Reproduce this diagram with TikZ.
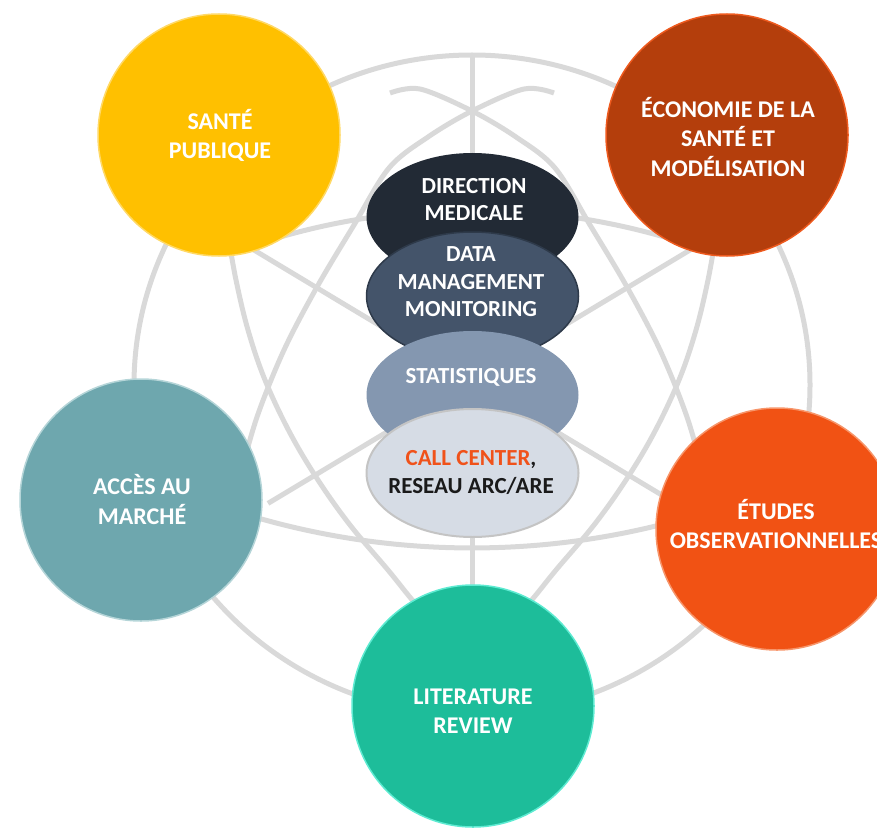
\documentclass[tikz,border=0pt]{standalone}
\usepackage{fontspec}
\setmainfont{Carlito}
\usetikzlibrary{shapes.geometric}
\definecolor{bgline}{HTML}{D9D9D9}
\definecolor{sante}{HTML}{FFC000}
\definecolor{santeb}{HTML}{FFD966}
\definecolor{eco}{HTML}{B43E0C}
\definecolor{ecob}{HTML}{EE5A1E}
\definecolor{acces}{HTML}{6EA7AE}
\definecolor{accesb}{HTML}{B5D5D8}
\definecolor{etudes}{HTML}{F15214}
\definecolor{etudesb}{HTML}{F7956A}
\definecolor{lit}{HTML}{1DBD9A}
\definecolor{litb}{HTML}{5EEBD2}
\definecolor{dirc}{HTML}{222A35}
\definecolor{datac}{HTML}{44546A}
\definecolor{datab}{HTML}{2E3A4A}
\definecolor{statc}{HTML}{8497B0}
\definecolor{callc}{HTML}{D6DCE5}
\definecolor{callb}{HTML}{C4C4C4}
\definecolor{callorange}{HTML}{F0521A}
\definecolor{darktext}{HTML}{1A1A1A}
\begin{document}
\begin{tikzpicture}[x=1pt,y=-1pt,
  bg/.style={draw=bgline, line width=5pt},
  topic/.style={circle, minimum size=242pt, inner sep=0pt, line width=1.5pt},
  topictext/.style={align=center, text=white, inner sep=0pt, font=\bfseries\fontsize{24}{29.5}\selectfont},
  core/.style={ellipse, minimum width=212pt, minimum height=128pt, inner sep=0pt},
  coretext/.style={align=center, text=white, inner sep=0pt, font=\bfseries\fontsize{23}{27.5}\selectfont}]
\useasboundingbox (0,0) rectangle (877,829);
\clip (0,0) rectangle (877,829);
% background pattern
\draw[bg] (472,385) ellipse [x radius=338, y radius=330];
\draw[bg] (472,55) -- (472,715);
\draw[bg] (270,240) arc[start angle=-106.9, end angle=-73.1, radius=696];
\draw[bg] (200,499) arc[start angle=110.41, end angle=71.5, radius=780];
\draw[bg] (268,503.4) -- (720,232);
\draw[bg] (224,232) -- (720,530);
\draw[bg] plot[smooth, tension=0.55] coordinates {(390,93) (420,89) (472,111) (516,137) (555,168) (590,225) (627,287) (660,350) (687,417) (705,480)};
\draw[bg] plot[smooth, tension=0.55] coordinates {(554,93) (524,89) (472,111) (428,137) (389,168) (354,225) (317,287) (284,350) (257,417) (239,480)};
\draw[bg] plot[smooth, tension=0.6] coordinates {(716,235) (708,280) (696,330) (679,380) (654,433) (626,480) (594,525) (556,570) (530,602) (504,630)};
\draw[bg] plot[smooth, tension=0.6] coordinates {(228,235) (236,280) (248,330) (265,380) (290,433) (318,480) (350,525) (388,570) (414,602) (440,630)};
% topic circles
\node[topic, fill=sante, draw=santeb] (sante) at (219,135) {};
\node[topic, fill=eco, draw=ecob] (eco) at (727,135) {};
\node[topic, fill=acces, draw=accesb] (acces) at (141,500) {};
\node[topic, fill=etudes, draw=etudesb] (etudes) at (777,529) {};
\node[topic, fill=lit, draw=litb] (lit) at (473,706) {};
\node[topictext] (santet) at (220,135.5) {SANTÉ\\PUBLIQUE};
\node[topictext] (ecot) at (728,137) {ÉCONOMIE DE LA\\SANTÉ ET\\MODÉLISATION};
\node[topictext] (accest) at (142,499.7) {ACCÈS AU\\MARCHÉ};
\node[topictext] (etudest) at (776,524.2) {ÉTUDES\\OBSERVATIONNELLES};
\node[topictext] (litt) at (473,711.2) {LITERATURE\\REVIEW};
% core ellipses
\node[core, fill=dirc] (dir) at (472.5,217) {};
\node[core, fill=datac, draw=datab, line width=1.5pt] (data) at (472.5,296) {};
\node[core, fill=statc] (stat) at (472.5,395) {};
\node[core, fill=callc, draw=callb, line width=2pt] (call) at (472.5,473) {};
\node[coretext] (dirt) at (474,199.6) {DIRECTION\\MEDICALE};
\node[coretext] (datat) at (471,281.8) {DATA\\MANAGEMENT\\MONITORING};
\node[coretext] (statt) at (471,377.6) {STATISTIQUES};
\node[coretext, text=darktext] (callt) at (471,472.6) {{\color{callorange}CALL CENTER},\\RESEAU ARC/ARE};
\end{tikzpicture}
\end{document}
